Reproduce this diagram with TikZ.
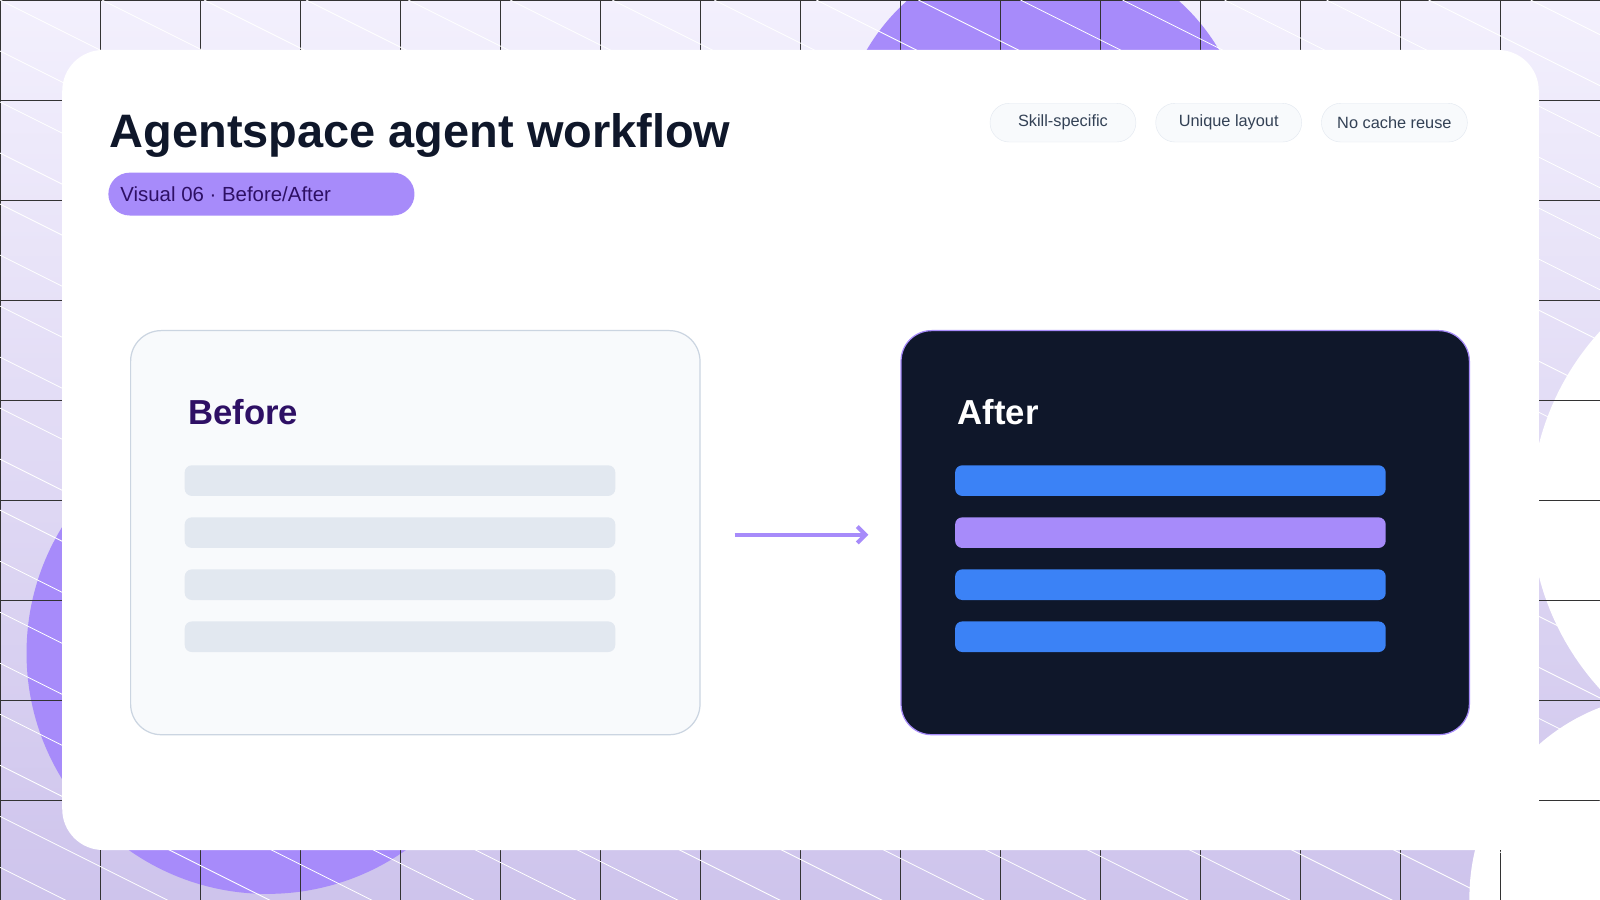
\documentclass[tikz,border=0pt]{standalone}
\usepackage{fontspec}
\setmainfont{Liberation Sans}
\usetikzlibrary{positioning, calc, arrows.meta}
\definecolor{bgtop}{HTML}{F3F0FD}
\definecolor{bgbot}{HTML}{CEC4EC}
\definecolor{violet}{HTML}{A78BFA}
\definecolor{ink}{HTML}{0F172A}
\definecolor{deep}{HTML}{2E1065}
\definecolor{paper}{HTML}{F8FAFC}
\definecolor{edge}{HTML}{CBD5E1}
\definecolor{bar}{HTML}{E2E8F0}
\definecolor{blue}{HTML}{3B82F6}
\definecolor{tagtext}{HTML}{334155}
\tikzset{
  tagbox/.style={draw=bar, fill=paper, rounded corners=19pt, minimum width=143pt,
    minimum height=38pt, text=tagtext, font=\fontsize{16}{18}\selectfont},
  card/.style={rounded corners=30pt, line width=1.2pt},
  barline/.style={rounded corners=7pt},
  heading/.style={anchor=base west, font=\bfseries\fontsize{34}{38}\selectfont}
}
\begin{document}
\begin{tikzpicture}[x=1pt,y=-1pt]
\useasboundingbox (0,0) rectangle (1568,882);

% backdrop
\shade[top color=bgtop, bottom color=bgbot] (0,0) rectangle (1568,882);
\begin{scope}
  \clip (0,0) rectangle (1568,882);
  \fill[violet] (1022,150) circle (200);
  \fill[violet] (262,640) circle (236);
  \fill[white] (1760,500) circle (260);
  \fill[white] (1640,880) circle (200);
  \foreach \x in {0,98,...,1568} \draw[black!80, line width=0.6pt] (\x,0) -- (\x,882);
  \foreach \y in {0,98,...,882} \draw[black!80, line width=0.6pt] (0,\y) -- (1568,\y);
  \foreach \x in {-1800,-1700,...,1600} \draw[white, line width=0.8pt] (\x,0) -- ++(1800,900);
\end{scope}

% card
\fill[white, rounded corners=40pt] (61,49) rectangle (1508,833);

\node[anchor=base west, text=ink, font=\bfseries\fontsize{46}{50}\selectfont]
  (title) at (104,145) {Agentspace agent workflow};
\node[fill=violet, rounded corners=21pt, minimum width=300pt, minimum height=42pt,
  anchor=north west, text=deep, font=\fontsize{20}{22}\selectfont, text depth=0pt]
  (pill) at (106,169) {\hspace*{-70pt}Visual 06 · Before/After};

\node[tagbox, anchor=north west] (skill) at (970,101) {Skill-specific};
\node[tagbox, right=19pt of skill] (layout) {Unique layout};
\node[tagbox, right=19pt of layout] (cache) {No cache reuse};

% before / after
\draw[card, draw=edge, fill=paper] (128,324) rectangle (686,720);
\draw[card, draw=violet, fill=ink] (883,324) rectangle (1440,720);
\node[heading, text=deep] (before) at (181,416) {Before};
\node[heading, text=white] (after) at (935,416) {After};

\foreach \y/\c in {456/blue,507/violet,558/blue,609/blue} {
  \fill[barline, bar] (181,\y) rectangle (603,\y+30);
  \fill[barline, \c] (936,\y) rectangle (1358,\y+30);
}

\coordinate (from) at (720,524);
\coordinate (to) at (851,524);
\draw[violet, line width=4pt, -{Straight Barb[length=8pt]}] (from) -- (to);
\end{tikzpicture}
\end{document}
